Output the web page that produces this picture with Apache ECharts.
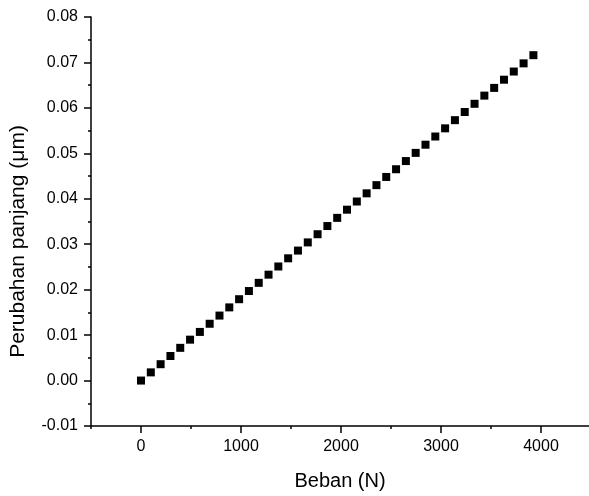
<!DOCTYPE html>
<html><head><meta charset="utf-8">
<script src="https://cdn.jsdelivr.net/npm/echarts@6/dist/echarts.min.js"></script>
<style>html,body{margin:0;padding:0;background:#fff}#c{width:589px;height:496px}</style>
</head><body><div id="c"></div>
<script>
var loadN = [0, 98.1, 196.2, 294.3, 392.4, 490.5, 588.6, 686.7, 784.8, 882.9, 981, 1079.1, 1177.2, 1275.3, 1373.4, 1471.5, 1569.6, 1667.7, 1765.8, 1863.9, 1962, 2060.1, 2158.2, 2256.3, 2354.4, 2452.5, 2550.6, 2648.7, 2746.8, 2844.9, 2943, 3041.1, 3139.2, 3237.3, 3335.4, 3433.5, 3531.6, 3629.7, 3727.8, 3825.9, 3924];
var elongation = [0, 0.0018, 0.0036, 0.0054, 0.0072, 0.0090, 0.0107, 0.0125, 0.0143, 0.0161, 0.0179, 0.0197, 0.0215, 0.0233, 0.0251, 0.0269, 0.0286, 0.0304, 0.0322, 0.0340, 0.0358, 0.0376, 0.0394, 0.0412, 0.0430, 0.0448, 0.0465, 0.0483, 0.0501, 0.0519, 0.0537, 0.0555, 0.0573, 0.0591, 0.0609, 0.0627, 0.0644, 0.0662, 0.0680, 0.0698, 0.0716];
var xMajorTicks = [0, 1000, 2000, 3000, 4000];
var xMinorTicks = [-500, 500, 1500, 2500, 3500];
var xTitle = 'Beban (N)';
var yTitle = 'Perubahan panjang (\u03bcm)';

var pts = loadN.map(function (x, i) { return [x, elongation[i]]; });
var font = 'Liberation Sans, Arial, sans-serif';
var chart = echarts.init(document.getElementById('c'), null, {renderer: 'canvas'});
chart.setOption({
  animation: false,
  backgroundColor: '#fff',
  grid: {left: 91, top: 17, right: 0, bottom: 70, containLabel: false},
  xAxis: [{
    type: 'value', min: -500, max: 4480, interval: 500,
    axisLine: {show: true, onZero: false, lineStyle: {color: '#000', width: 1.5}},
    axisTick: {show: true, length: 7, inside: false, customValues: xMajorTicks, lineStyle: {color: '#000', width: 1.5}},
    axisLabel: {customValues: xMajorTicks, color: '#000', fontSize: 16, fontFamily: font, margin: 13,
      formatter: function (v) { return String(v); }},
    splitLine: {show: false},
    name: xTitle, nameLocation: 'middle', nameGap: 45,
    nameTextStyle: {color: '#000', fontSize: 20, fontFamily: font}
  }, {
    type: 'value', min: -500, max: 4480, interval: 500, position: 'bottom',
    axisLine: {show: false, onZero: false},
    axisTick: {show: true, length: 3, customValues: xMinorTicks, lineStyle: {color: '#000', width: 1.5}},
    axisLabel: {show: false},
    splitLine: {show: false}
  }],
  yAxis: {
    type: 'value', min: -0.01, max: 0.08, interval: 0.01,
    axisLine: {show: true, onZero: false, lineStyle: {color: '#000', width: 1.5}},
    axisTick: {show: true, length: 7, lineStyle: {color: '#000', width: 1.5}},
    minorTick: {show: true, splitNumber: 2, length: 3, lineStyle: {color: '#000', width: 1.5}},
    axisLabel: {color: '#000', fontSize: 16, fontFamily: font, margin: 13,
      formatter: function (v) { return v.toFixed(2); }},
    splitLine: {show: false},
    name: yTitle, nameLocation: 'middle', nameGap: 62, nameRotate: 90,
    nameTextStyle: {color: '#000', fontSize: 21, fontFamily: font, padding: [0, 40, 0, 0]}
  },
  series: [{
    type: 'scatter', xAxisIndex: 0, data: pts,
    symbol: 'rect', symbolSize: 8,
    itemStyle: {color: '#000', opacity: 1}
  }]
});
</script></body></html>
